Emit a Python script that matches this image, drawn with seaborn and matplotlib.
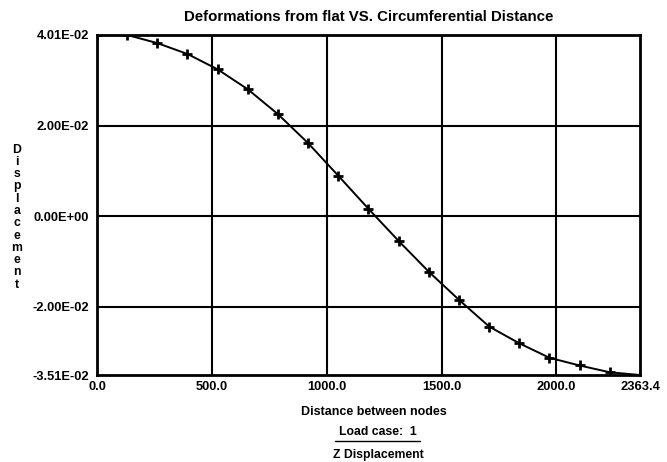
import matplotlib
matplotlib.use('Agg')

import pandas as pd
import seaborn as sns
from matplotlib import pyplot as plt

# node distances and z displacement
distance = [0.0, 131.3, 262.6, 393.9, 525.2, 656.5, 787.8, 919.1, 1050.4, 1181.7,
            1313.0, 1444.3, 1575.6, 1706.9, 1838.2, 1969.5, 2100.8, 2232.1, 2363.4]
displacement = [0.0401, 0.0400, 0.0382, 0.0358, 0.0324, 0.0280, 0.0225, 0.0161, 0.0089, 0.0016,
                -0.0055, -0.0123, -0.0185, -0.0244, -0.0281, -0.0313, -0.0330, -0.0345, -0.0351]

x_ticks = [0.0, 500.0, 1000.0, 1500.0, 2000.0, 2363.4]
y_ticks = [-0.0351, -0.02, 0.0, 0.02, 0.0401]
y_labels = ['-3.51E-02', '-2.00E-02', '0.00E+00', '2.00E-02', '4.01E-02']

sns.set_theme(style='white')
plt.rcParams['font.family'] = ['Liberation Sans', 'DejaVu Sans']
plt.rcParams['font.weight'] = 'bold'
for k in ['text.color', 'axes.labelcolor', 'xtick.color', 'ytick.color']:
    plt.rcParams[k] = 'black'

df = pd.DataFrame({'dist': distance, 'disp': displacement})

fig = plt.figure(figsize=(6.67, 4.62), dpi=100)
ax = fig.add_axes([0.1454, 0.1883, 0.8141, 0.737])

sns.lineplot(data=df, x='dist', y='disp', ax=ax, color='black', linewidth=1.4,
             marker='+', markersize=7.5, markeredgewidth=2, markeredgecolor='black')

ax.set_xlim(0, 2363.4)
ax.set_ylim(-0.0351, 0.0401)
ax.set_xticks(x_ticks)
ax.set_xticklabels(['%.1f' % t for t in x_ticks], fontsize=9.3, fontweight='bold')
ax.set_yticks(y_ticks)
ax.set_yticklabels(y_labels, fontsize=9.3, fontweight='bold')
ax.tick_params(axis='y', length=0, pad=6)
ax.tick_params(axis='x', length=0, pad=4)

for v in [500, 1000, 1500, 2000]:
    ax.axvline(v, color='black', linewidth=1.5, zorder=0)
for v in [-0.02, 0.0, 0.02]:
    ax.axhline(v, color='black', linewidth=1.5, zorder=0)
for s in ax.spines.values():
    s.set_color('black')
    s.set_linewidth(2)

ax.set_xlabel('')
ax.set_ylabel('')
ax.set_title('Deformations from flat VS. Circumferential Distance',
             fontsize=10.8, fontweight='bold', pad=10)

fig.text(0.0255, 0.53, '\n'.join('Displacement'), fontsize=8.8, fontweight='bold',
         ha='center', va='center', linespacing=1.03)
fig.text(0.561, 0.108, 'Distance between nodes', fontsize=9, fontweight='bold', ha='center', va='center')
fig.text(0.566, 0.065, 'Load case:  1', fontsize=8.8, fontweight='bold', ha='center', va='center')
fig.add_artist(plt.Line2D([0.502, 0.63], [0.0455, 0.0455], color='black', linewidth=1))
fig.text(0.567, 0.015, 'Z Displacement', fontsize=8.8, fontweight='bold', ha='center', va='center')

fig.savefig('out.png', dpi=100)
